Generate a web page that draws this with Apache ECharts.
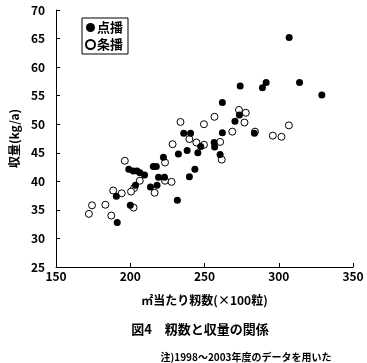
<!DOCTYPE html>
<html><head><meta charset="utf-8">
<script src="https://cdn.jsdelivr.net/npm/echarts@6/dist/echarts.min.js"></script>
<style>html,body{margin:0;padding:0;background:#fff}#c{width:367px;height:363px}</style>
</head><body><div id="c"></div>
<script>
// 点播 (filled)
const tenpaX = [307,274,289,291.5,314,329,262,273.5,270.5,283.6,262,236,240.6,256.5,256.8,247.4,245.5,238.3,232.4,260.5,222.3,215.5,217.5,243.5,239.8,199,202,204.5,206.5,209.6,219,223,213.6,218,203.5,190.6,200,191.2,231.7];
const tenpaY = [65.2,56.7,56.4,57.3,57.3,55.1,53.8,51.6,50.5,48.4,48.5,48.4,48.4,46.8,46.0,46.1,45.0,45.4,44.8,44.7,44.2,42.6,42.6,42.1,40.8,42.1,41.8,41.8,41.5,41.1,40.7,40.7,39.0,39.3,39.3,37.4,35.8,32.8,36.7];
// 条播 (open)
const jouhaX = [273.2,277.8,233.8,256.7,249.6,276.9,306.8,284,296,301.8,268.7,239.8,244.5,249.6,228.5,260.5,261.6,223.4,196.3,206.4,223.4,227.8,216.4,202.5,200.5,188.5,194.2,183.2,174.2,172.1,187.2,202.2];
const jouhaY = [52.5,52.0,50.4,51.3,50.0,50.3,49.8,48.7,48.0,47.8,48.7,47.4,46.8,46.4,46.5,46.9,43.8,43.3,43.6,40.1,40.1,39.9,38.0,38.8,38.2,38.4,37.9,35.9,35.8,34.3,34.0,35.4];
const seriesNames = ['点播','条播'];
const xTicks = [150,350,50];
const yTicks = [25,70,5];
const xName = '㎡当たり籾数(×100粒)';
const yName = '収量(kg/a)';
const figTitle = '図4　籾数と収量の関係';
const note = '注)1998～2003年度のデータを用いた';

const FF = '"Noto Sans CJK JP", "Noto Sans", sans-serif';
const zip = (a,b)=>a.map((v,i)=>[v,b[i]]);
const chart = echarts.init(document.getElementById('c'));
chart.setOption({
  animation:false,
  textStyle:{fontFamily:FF},
  grid:{left:48,right:14,top:10,bottom:96},
  title:[
    {text:figTitle,left:195,top:318,textAlign:'center',textStyle:{fontFamily:FF,fontSize:13,fontWeight:'bold',color:'#000'}},
    {text:note,left:241,top:347,textAlign:'center',textStyle:{fontFamily:FF,fontSize:10,fontWeight:'bold',color:'#000'}}
  ],
  legend:{
    orient:'vertical',left:82,top:18,
    data:seriesNames,
    borderColor:'#000',borderWidth:1,padding:[3,5,3,3],
    itemWidth:9,itemHeight:9,itemGap:4,
    textStyle:{fontFamily:FF,fontSize:13,fontWeight:'bold',color:'#000',padding:[0,0,0,-3]}
  },
  xAxis:{
    type:'value',min:xTicks[0],max:xTicks[1],interval:xTicks[2],
    name:xName,nameLocation:'middle',nameGap:27,
    nameTextStyle:{fontFamily:FF,fontSize:12,fontWeight:'bold',color:'#000'},
    axisLine:{lineStyle:{color:'#000',width:1}},
    axisTick:{inside:true,length:4,lineStyle:{color:'#000'}},
    axisLabel:{fontFamily:FF,fontSize:12,fontWeight:'bold',color:'#000',margin:3},
    splitLine:{show:false}
  },
  yAxis:{
    type:'value',min:yTicks[0],max:yTicks[1],interval:yTicks[2],
    name:yName,nameLocation:'middle',nameGap:30,
    nameTextStyle:{fontFamily:FF,fontSize:12,fontWeight:'bold',color:'#000'},
    axisLine:{show:true,lineStyle:{color:'#000',width:1}},
    axisTick:{show:true,inside:true,length:4,lineStyle:{color:'#000'}},
    axisLabel:{fontFamily:FF,fontSize:12,fontWeight:'bold',color:'#000',margin:11},
    splitLine:{show:false}
  },
  series:[
    {name:seriesNames[1],type:'scatter',symbol:'circle',symbolSize:7,
     itemStyle:{color:'#fff',borderColor:'#000',borderWidth:1,opacity:1},
     data:zip(jouhaX,jouhaY)},
    {name:seriesNames[0],type:'scatter',symbol:'circle',symbolSize:7,
     itemStyle:{color:'#000',borderColor:'#000',borderWidth:0,opacity:1},
     data:zip(tenpaX,tenpaY)}
  ]
});
</script></body></html>
